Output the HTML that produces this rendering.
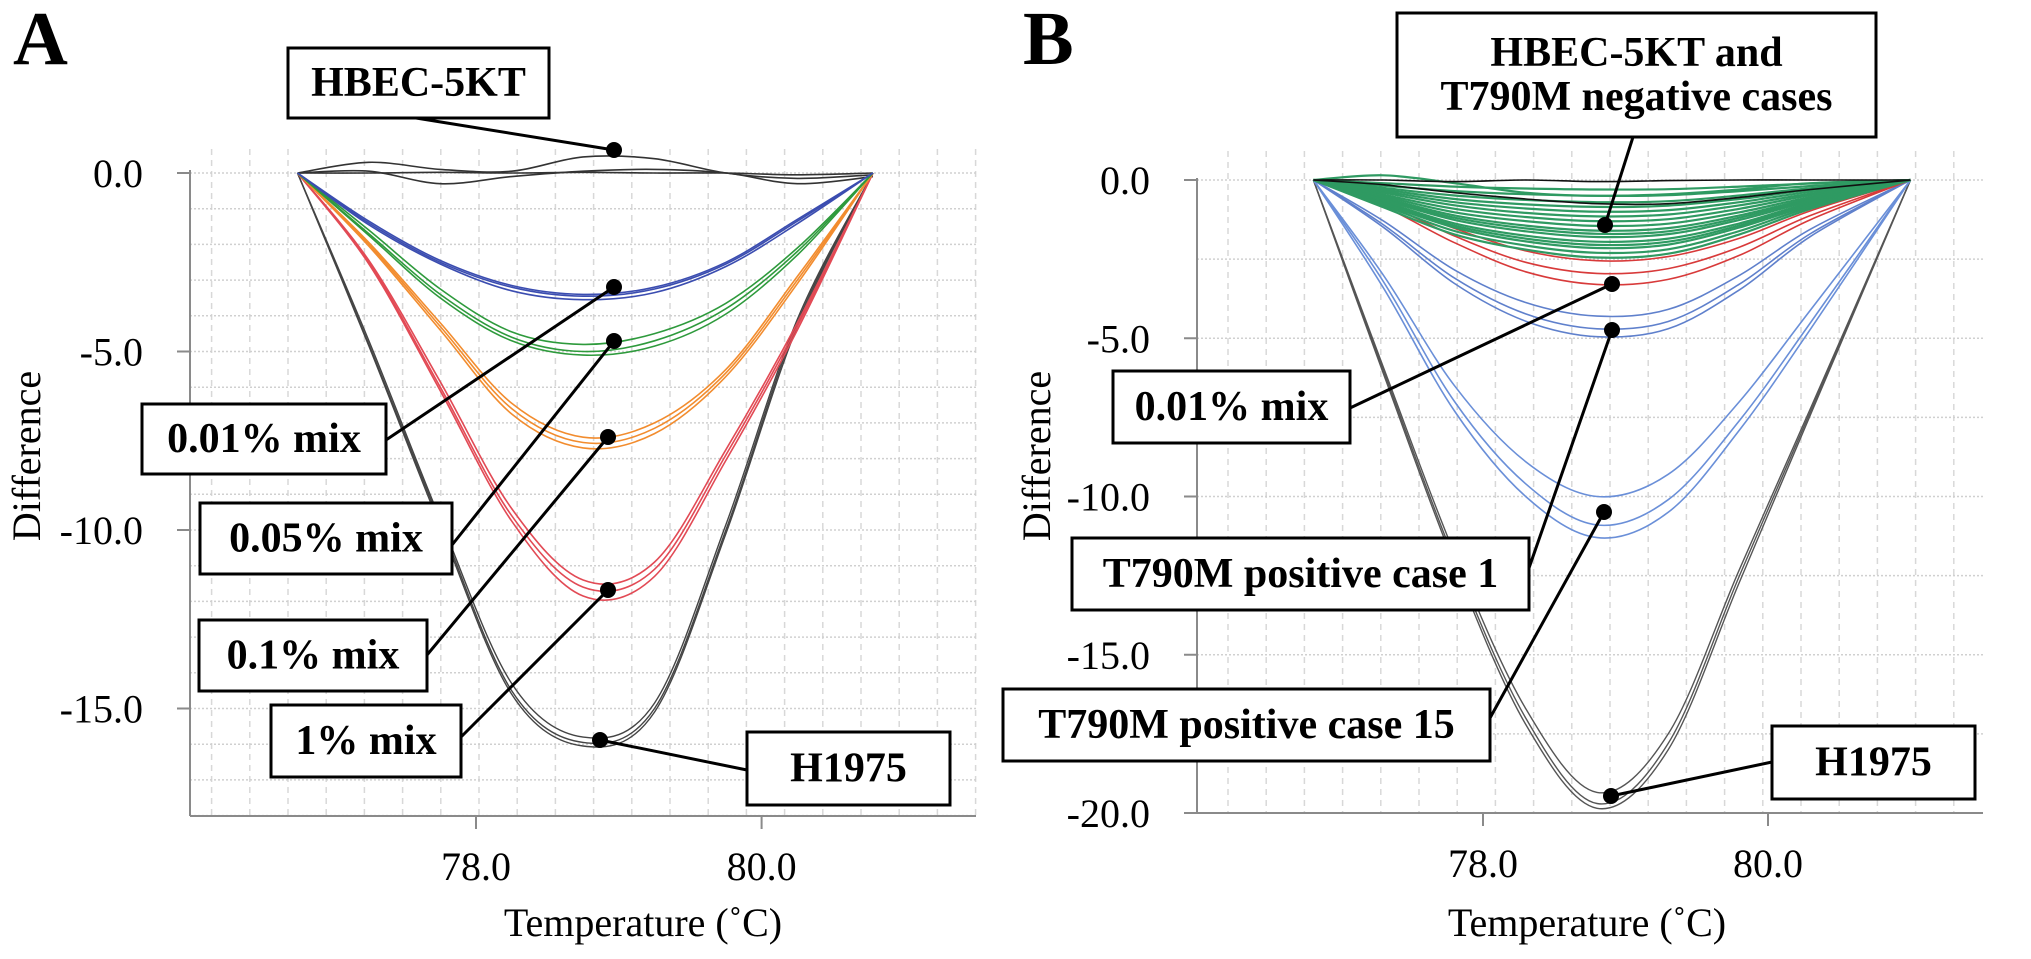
<!DOCTYPE html>
<html><head><meta charset="utf-8"><style>
html,body{margin:0;padding:0;background:#fff;}
svg{display:block;font-family:"Liberation Serif",serif;}
.box{fill:#fff;stroke:#000;stroke-width:3;}
.lbl{font-weight:bold;font-size:42px;text-anchor:middle;dominant-baseline:central;}
.tick{font-size:40px;}
</style></head><body>
<svg id="fig" width="2031" height="959" viewBox="0 0 2031 959" xmlns="http://www.w3.org/2000/svg">
<g id="panelA"></g>
<g id="panelB"></g>
</svg>
<script>
// ---------- Panel A data ----------
const tempsA = [76.75,77.25,77.75,78.25,78.75,79.25,79.75,80.25,80.78];
const hbecA = [
 [0,0.3,0.1,0.05,0.45,0.4,0,-0.15,-0.05],
 [0,0.05,-0.3,-0.1,0.05,0.1,0,-0.3,-0.1],
 [0,0,0.02,0,0.02,0,0,-0.05,0]
];
const blueA = [
 [0,-1.35,-2.45,-3.15,-3.4,-3.2,-2.5,-1.3,0],
 [0,-1.4,-2.5,-3.2,-3.45,-3.25,-2.55,-1.35,0],
 [0,-1.45,-2.55,-3.3,-3.55,-3.35,-2.62,-1.42,0]
];
const greenA = [
 [0,-1.6,-3.25,-4.45,-4.8,-4.5,-3.65,-2.1,0],
 [0,-1.7,-3.4,-4.6,-5.0,-4.7,-3.8,-2.2,0],
 [0,-1.75,-3.5,-4.7,-5.1,-4.85,-3.95,-2.3,0]
];
const orangeA = [
 [0,-1.95,-4.2,-6.45,-7.4,-7.0,-5.5,-2.9,0],
 [0,-2.0,-4.3,-6.6,-7.55,-7.15,-5.6,-3.0,0],
 [0,-2.05,-4.4,-6.75,-7.7,-7.3,-5.7,-3.1,0]
];
const redA = [
 [0,-2.45,-5.85,-9.4,-11.4,-10.9,-7.75,-4.2,0],
 [0,-2.5,-6.0,-9.6,-11.6,-11.1,-7.9,-4.3,0],
 [0,-2.55,-6.1,-9.75,-11.85,-11.3,-8.05,-4.4,0]
];
const h1975A = [
 [0,-4.7,-9.7,-14.3,-15.8,-14.85,-9.85,-4.1,0],
 [0,-4.8,-9.8,-14.5,-15.95,-15.0,-10.0,-4.2,0],
 [0,-4.85,-9.9,-14.6,-16.05,-15.1,-10.1,-4.3,0]
];
const yTicksA = [0,-5,-10,-15];
const yTickLabelsA = ["0.0","-5.0","-10.0","-15.0"];
const xTicks = [78,80];
const xTickLabels = ["78.0","80.0"];

// ---------- Panel B data ----------
const tempsB = [76.81,77.3,77.8,78.3,78.8,79.3,79.8,80.3,81.0];
const greenB = [
 [0,-0.1,-0.21,-0.27,-0.3,-0.29,-0.21,-0.11,0],
 [0,-0.18,-0.35,-0.45,-0.5,-0.48,-0.35,-0.19,0],
 [0,-0.25,-0.49,-0.63,-0.7,-0.67,-0.49,-0.26,0],
 [0,-0.3,-0.6,-0.77,-0.85,-0.81,-0.6,-0.31,0],
 [0,-0.35,-0.7,-0.9,-1,-0.95,-0.7,-0.37,0],
 [0,-0.4,-0.8,-1.04,-1.15,-1.09,-0.8,-0.43,0],
 [0,-0.46,-0.91,-1.17,-1.3,-1.24,-0.91,-0.48,0],
 [0,-0.51,-1.02,-1.3,-1.45,-1.38,-1.02,-0.54,0],
 [0,-0.56,-1.12,-1.44,-1.6,-1.52,-1.12,-0.59,0],
 [0,-0.6,-1.19,-1.53,-1.7,-1.62,-1.19,-0.63,0],
 [0,-0.63,-1.26,-1.62,-1.8,-1.71,-1.26,-0.67,0],
 [0,-0.68,-1.37,-1.76,-1.95,-1.85,-1.37,-0.72,0],
 [0,-0.72,-1.44,-1.85,-2.05,-1.95,-1.44,-0.76,0],
 [0,-0.75,-1.5,-1.94,-2.15,-2.04,-1.5,-0.8,0],
 [0,-0.8,-1.61,-2.07,-2.3,-2.19,-1.61,-0.85,0],
 [0,-0.86,-1.72,-2.2,-2.45,-2.33,-1.72,-0.91,0],
 [0,0.15,-0.1,-0.4,-0.5,-0.45,-0.3,-0.1,0]
];
const blackB = [
 [0,-0.15,-0.4,-0.6,-0.75,-0.75,-0.55,-0.3,0],
 [0,0,-0.05,0,-0.05,-0.02,0,0,0]
];
const redB = [
 [0,-0.64,-1.53,-2.24,-2.55,-2.42,-1.84,-0.97,0],
 [0,-0.74,-1.77,-2.6,-2.95,-2.8,-2.12,-1.12,0],
 [0,-0.83,-1.98,-2.9,-3.3,-3.14,-2.38,-1.25,0]
];
const blueMidB = [
 [0,-1.29,-2.84,-3.87,-4.3,-4.09,-3.01,-1.55,0],
 [0,-1.41,-3.1,-4.23,-4.7,-4.47,-3.29,-1.69,0],
 [0,-1.49,-3.27,-4.46,-4.95,-4.7,-3.47,-1.78,0]
];
const blueDeepB = [
 [0,-3.0,-6.5,-8.9,-10.0,-9.3,-7.0,-4.1,0],
 [0,-3.2,-7.0,-9.6,-10.9,-10.1,-7.6,-4.5,0],
 [0,-3.4,-7.3,-10.0,-11.3,-10.5,-7.9,-4.7,0]
];
const h1975B = [
 [0,-5.9,-11.8,-16.7,-19.35,-17.5,-12.3,-7.2,0],
 [0,-6.0,-12.0,-17.0,-19.7,-17.8,-12.5,-7.3,0],
 [0,-6.1,-12.15,-17.2,-19.85,-18.0,-12.7,-7.4,0]
];
const yTicksB = [0,-5,-10,-15,-20];
const yTickLabelsB = ["0.0","-5.0","-10.0","-15.0","-20.0"];

const NS = "http://www.w3.org/2000/svg";
function mk(parent, tag, attrs){
  const e = document.createElementNS(NS, tag);
  for (const k in attrs) e.setAttribute(k, attrs[k]);
  parent.appendChild(e);
  return e;
}
function spline(pts){
  let d = "M" + pts[0][0].toFixed(1) + "," + pts[0][1].toFixed(1);
  for (let i = 0; i < pts.length - 1; i++){
    const p0 = pts[i-1] || pts[i], p1 = pts[i], p2 = pts[i+1], p3 = pts[i+2] || pts[i+1];
    const c1x = p1[0] + (p2[0]-p0[0])/6, c1y = p1[1] + (p2[1]-p0[1])/6;
    const c2x = p2[0] - (p3[0]-p1[0])/6, c2y = p2[1] - (p3[1]-p1[1])/6;
    d += " C" + c1x.toFixed(1) + "," + c1y.toFixed(1) + " " + c2x.toFixed(1) + "," + c2y.toFixed(1) + " " + p2[0].toFixed(1) + "," + p2[1].toFixed(1);
  }
  return d;
}

function buildPanel(cfg){
  const g = document.getElementById(cfg.id);
  const X = t => cfg.x78 + (t - 78) * cfg.pxDeg;
  const Y = v => cfg.y0 - v * cfg.pxUnit;
  const grid = mk(g, "g", {});
  
  
  for (let gx = cfg.gridX0; gx <= cfg.right; gx += 38.2){
    mk(grid, "line", {x1:gx, y1:cfg.gridTop, x2:gx, y2:cfg.bottom, stroke:"#d8d8d8", "stroke-width":1.5, "stroke-dasharray":"6,5"});
  }
  for (let v = 0; v >= cfg.ymin; v -= cfg.gridStep){
    mk(grid, "line", {x1:cfg.axisX, y1:Y(v), x2:cfg.right, y2:Y(v), stroke:"#d0d0d0", "stroke-width":1.5, "stroke-dasharray":"2,2"});
  }
  const ax = mk(g, "g", {stroke:"#8a8a8a", "stroke-width":2});
  
  
  mk(ax, "line", {x1:cfg.axisX, y1:cfg.axisTop, x2:cfg.axisX, y2:cfg.bottom});
  mk(ax, "line", {x1:cfg.axisX, y1:cfg.bottom, x2:cfg.right, y2:cfg.bottom});
  cfg.yTicks.forEach((v, i) => {
    mk(ax, "line", {x1:cfg.axisX-13, y1:Y(v), x2:cfg.axisX, y2:Y(v)});
    const t = mk(g, "text", {x:cfg.axisX-47, y:Y(v)+14, "text-anchor":"end", class:"tick"});
    
    
    t.textContent = cfg.yLabels[i];
  });
  xTicks.forEach((v, i) => {
    mk(ax, "line", {x1:X(v), y1:cfg.bottom, x2:X(v), y2:cfg.bottom+13});
    const t = mk(g, "text", {x:X(v), y:cfg.bottom+64, "text-anchor":"middle", class:"tick"});
    
    
    t.textContent = xTickLabels[i];
  });
  cfg.series.forEach(s => {
    const sg = mk(g, "g", {fill:"none", stroke:s.color, "stroke-width":s.w || 1.6});
    
    
    s.data.forEach(arr => {
      const pts = arr.map((v, i) => [X(cfg.temps[i]), Y(v)]);
      const p = mk(sg, "path", {d:spline(pts)});
      
      
    });
  });
  const yt = mk(g, "text", {x:0, y:0, "text-anchor":"middle", "font-size":"40", transform:"translate(" + cfg.yTitleX + ",456) rotate(-90)"});
  
  
  yt.textContent = "Difference";
  const xt = mk(g, "text", {x:cfg.xTitleX, y:936, "text-anchor":"middle", "font-size":"40"});
  
  
  xt.textContent = "Temperature (˚C)";
  const pl = mk(g, "text", {x:cfg.letterX, y:64, "font-size":"76", "font-weight":"bold"});
  
  
  pl.textContent = cfg.letter;
  cfg.notes.forEach(n => {
    const ag = mk(g, "g", {});
    
    
    mk(ag, "line", {x1:n.lx, y1:n.ly, x2:n.dx, y2:n.dy, stroke:"#000", "stroke-width":3});
    mk(ag, "rect", {x:n.x, y:n.y, width:n.w, height:n.h, class:"box"});
    mk(ag, "circle", {cx:n.dx, cy:n.dy, r:8, fill:"#000"});
    n.lines.forEach((ln, i) => {
      const t = mk(ag, "text", {x:n.x+n.w/2, y:n.y + (n.lines.length === 1 ? n.h/2 : 40 + i*44), class:"lbl", "font-size":n.fs || 42});
      
      
      t.textContent = ln;
    });
  });
}

buildPanel({
  id:"panelA", letter:"A", letterX:13, temps:tempsA,
  x78:476, pxDeg:142.8, y0:173, pxUnit:35.7, ymin:-18, gridStep:1,
  axisX:190, axisTop:170, bottom:816, right:976, gridTop:149, gridX0:211.6,
  yTicks:yTicksA, yLabels:yTickLabelsA, yTitleX:40, xTitleX:643,
  series:[
    {name:"hbec-5kt", color:"#333", data:hbecA},
    {name:"h1975", color:"#444", data:h1975A, w:1.4},
    {name:"mix-1pct", color:"#e24a55", data:redA},
    {name:"mix-0-1pct", color:"#f28c2e", data:orangeA},
    {name:"mix-0-05pct", color:"#2e9a3c", data:greenA},
    {name:"mix-0-01pct", color:"#3b4db0", data:blueA}
  ],
  notes:[
    {x:288,y:48,w:261,h:70,lines:["HBEC-5KT"],lx:416,ly:118,dx:614,dy:150},
    {x:142,y:404,w:244,h:70,lines:["0.01% mix"],lx:386,ly:440,dx:614,dy:287},
    {x:200,y:503,w:252,h:71,lines:["0.05% mix"],lx:452,ly:545,dx:614,dy:341},
    {x:199,y:620,w:228,h:71,lines:["0.1% mix"],lx:427,ly:655,dx:608,dy:437},
    {x:271,y:705,w:190,h:72,lines:["1% mix"],lx:461,ly:737,dx:608,dy:590},
    {x:747,y:732,w:203,h:73,lines:["H1975"],lx:747,ly:770,dx:600,dy:740}
  ]
});

buildPanel({
  id:"panelB", letter:"B", letterX:1023, temps:tempsB,
  x78:1483, pxDeg:142.5, y0:180, pxUnit:31.65, ymin:-20, gridStep:2.5,
  axisX:1197, axisTop:178, bottom:813, right:1983, gridTop:151, gridX0:1228,
  yTicks:yTicksB, yLabels:yTickLabelsB, yTitleX:1050, xTitleX:1587,
  series:[
    {name:"h1975", color:"#555", data:h1975B, w:1.4},
    {name:"positive-case-15", color:"#6a8fd8", data:blueDeepB},
    {name:"positive-case-1", color:"#5f80cc", data:blueMidB},
    {name:"mix-0-01pct", color:"#d83a3a", data:redB},
    {name:"negative-cases", color:"#2f9a62", data:greenB, w:2.2},
    {name:"hbec-5kt", color:"#111", data:blackB}
  ],
  notes:[
    {x:1397,y:13,w:479,h:124,lines:["HBEC-5KT and","T790M negative cases"],lx:1633,ly:137,dx:1605,dy:225,fs:41},
    {x:1113,y:371,w:237,h:72,lines:["0.01% mix"],lx:1350,ly:408,dx:1612,dy:284,fs:41},
    {x:1072,y:538,w:457,h:72,lines:["T790M positive case 1"],lx:1529,ly:568,dx:1612,dy:330,fs:41},
    {x:1003,y:689,w:487,h:72,lines:["T790M positive case 15"],lx:1490,ly:718,dx:1604,dy:512,fs:41},
    {x:1772,y:726,w:203,h:73,lines:["H1975"],lx:1772,ly:762,dx:1611,dy:796,fs:41}
  ]
});
</script>
</body></html>
